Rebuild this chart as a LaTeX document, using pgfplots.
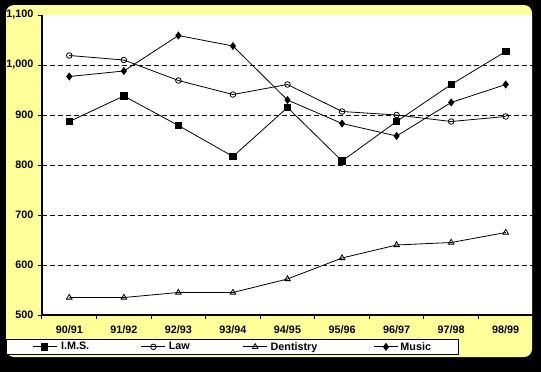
\documentclass[border=0pt]{standalone}
\usepackage{fontspec}
\setmainfont{Liberation Sans}
\usepackage{pgfplots}
\pgfplotsset{compat=1.18}
\definecolor{panel}{HTML}{FFFF99}
\begin{document}
\begin{tikzpicture}[x=1pt,y=1pt]
\fill[black] (0,0) rectangle (541,-372);
\fill[panel,rounded corners=8pt] (6,-5) rectangle (532,-357);
\fill[white] (42,-15) rectangle (532,-315);
\begin{axis}[
  at={(42pt,-315pt)}, anchor=south west, scale only axis,
  width=491pt, height=300pt,
  xmin=-0.5, xmax=8.5, ymin=500, ymax=1100,
  axis x line*=bottom, axis y line*=left,
  axis line style={-, line width=1.2pt, black},
  clip=false,
  xtick={0,...,8},
  xticklabels={90/91,91/92,92/93,93/94,94/95,95/96,96/97,97/98,98/99},
  minor xtick={-0.5,0.5,...,7.5},
  every major x tick/.append style={draw=none},
  every minor x tick/.append style={line width=1pt, black},
  minor tick length=4pt,
  major tick length=4pt,
  tick align=outside,
  ytick={500,600,...,1100},
  every major y tick/.append style={line width=1pt, black},
  extra y ticks={600,700,800,900,1000},
  extra y tick labels={},
  extra y tick style={grid=major, tick style={draw=none}},
  major grid style={black, line width=0.8pt, dash pattern=on 5pt off 3pt},
  /pgf/number format/1000 sep={,},
  /pgf/number format/assume math mode=true,
  tick label style={font=\bfseries\fontsize{10.8}{13}\selectfont},
  xticklabel style={yshift=-3pt},
  yticklabel style={xshift=-1pt},
  legend columns=4,
  legend style={at={(-0.0733,-0.0767)}, anchor=north west, draw=black, fill=white,
    inner xsep=26pt, inner ysep=3pt, yshift=-1pt,
    font=\bfseries\fontsize{10.8}{13}\selectfont,
    nodes={inner sep=0pt},
    /tikz/every even column/.append style={column sep=0pt}},
  legend image code/.code={\draw[mark repeat=2,mark phase=2,#1] plot coordinates {(0pt,0pt) (12pt,0pt) (24pt,0pt)};},
]
\addplot[black, line width=0.8pt, mark=square*, mark size=3.2pt, mark options={solid}] coordinates {
(0,887) (1,938) (2,879) (3,817) (4,915) (5,808) (6,887) (7,961) (8,1027)};
\addlegendentry{\makebox[84pt][l]{\hspace{4pt}I.M.S.}}
\addplot[black, line width=0.8pt, mark=o, mark size=2.8pt, mark options={fill=white, line width=0.8pt}] coordinates {
(0,1019) (1,1010) (2,969) (3,941) (4,961) (5,907) (6,900) (7,887) (8,897)};
\addlegendentry{\makebox[77pt][l]{\hspace{3pt}Law}}
\addplot[black, line width=0.8pt, mark=triangle, mark size=3.2pt, mark options={fill=white, line width=0.8pt}] coordinates {
(0,535) (1,535) (2,545) (3,545) (4,572) (5,614) (6,640) (7,645) (8,665)};
\addlegendentry{\makebox[106pt][l]{\hspace{3pt}Dentistry}}
\addplot[black, line width=0.8pt, mark=diamond*, mark size=3.4pt] coordinates {
(0,977) (1,988) (2,1059) (3,1038) (4,930) (5,883) (6,858) (7,925) (8,961)};
\addlegendentry{\makebox[34pt][l]{\hspace{2pt}Music}}
\end{axis}
\end{tikzpicture}
\end{document}
